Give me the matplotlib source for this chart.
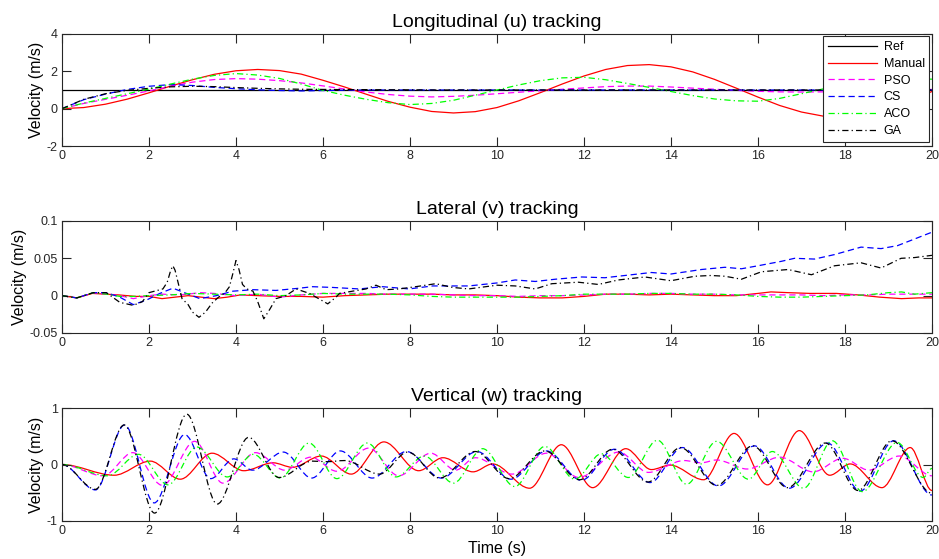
import numpy as np
import matplotlib.pyplot as plt
from matplotlib.path import Path
from matplotlib.patches import PathPatch

plt.rcParams['font.family'] = ['Liberation Sans', 'DejaVu Sans']
plt.rcParams['axes.unicode_minus'] = False

names = ['Ref', 'Manual', 'PSO', 'CS', 'ACO', 'GA']
colors = ['k', 'r', '#ff00ff', '#0000ff', '#00ff00', 'k']
styles = ['-', '-', (0, (5, 3)), (0, (5, 3)), (0, (5, 2.5, 1, 2.5)), (0, (5, 2.5, 1, 2.5))]

# ---- longitudinal velocity u (sampled every 0.5 s) ----
t_u = np.linspace(0, 20, 41)
ref_u_t = [0, 0, 20]
ref_u = [0, 1, 1]
manual_u = [0.00, 0.06, 0.24, 0.51, 0.85, 1.21, 1.55, 1.84, 2.03, 2.10, 2.04, 1.85, 1.52, 1.16,
            0.77, 0.39, 0.08, -0.15, -0.23, -0.16, 0.06, 0.42, 0.86, 1.32, 1.75, 2.10, 2.31, 2.36,
            2.24, 1.97, 1.57, 1.10, 0.62, 0.17, -0.18, -0.40, -0.45, -0.32, -0.02, 0.41, 0.92]
pso_u = [0.00, 0.28, 0.50, 0.72, 0.95, 1.20, 1.42, 1.56, 1.61, 1.58, 1.50, 1.38, 1.22, 1.05,
         0.89, 0.76, 0.67, 0.63, 0.66, 0.72, 0.80, 0.88, 0.96, 1.04, 1.11, 1.18, 1.21, 1.21,
         1.16, 1.10, 1.04, 0.98, 0.93, 0.90, 0.89, 0.90, 0.93, 0.96, 0.99, 1.01, 1.03]
cs_u = [0.00, 0.48, 0.78, 1.03, 1.20, 1.29, 1.24, 1.14, 1.07, 1.01, 0.97, 0.95, 0.97, 0.99,
        1.00, 1.00, 1.00, 1.00, 1.00, 1.00, 1.00, 1.00, 1.00, 1.00, 1.00, 1.00, 1.00, 1.00,
        1.00, 1.00, 1.00, 1.00, 1.00, 1.00, 1.00, 1.00, 1.00, 1.00, 1.00, 1.00, 1.00]
aco_u = [0.00, 0.30, 0.55, 0.80, 1.05, 1.32, 1.58, 1.78, 1.88, 1.80, 1.62, 1.32, 0.98, 0.72,
         0.50, 0.32, 0.22, 0.28, 0.45, 0.72, 1.00, 1.27, 1.50, 1.65, 1.68, 1.55, 1.35, 1.14,
         0.92, 0.70, 0.52, 0.42, 0.40, 0.55, 0.80, 1.06, 1.30, 1.45, 1.55, 1.60, 1.58]
ga_u = [0.00, 0.50, 0.80, 0.98, 1.09, 1.17, 1.20, 1.18, 1.13, 1.09, 1.06, 1.04, 1.03, 1.02,
        1.02, 1.01, 1.01, 1.00, 1.00, 1.00, 1.00, 1.00, 1.00, 1.00, 1.00, 1.00, 1.00, 1.00,
        1.00, 1.00, 1.00, 1.00, 1.00, 1.00, 1.00, 1.00, 1.00, 1.00, 1.00, 1.00, 1.00]

# ---- lateral velocity v, (time, value) ----
manual_v = [(0, 0), (0.34, -0.003), (0.7, 0.003), (1.0, 0.002), (1.3, 0.001), (1.7, -0.001),
            (2.0, -0.001), (2.3, -0.004), (2.6, -0.002), (2.9, 0.0), (3.2, -0.002), (3.5, -0.004),
            (3.8, -0.002), (4.1, 0.001), (4.5, 0.0), (5.0, -0.001), (5.5, -0.001), (6.0, -0.002),
            (6.5, 0.0), (7.0, 0.001), (7.5, 0.002), (8.0, 0.002), (8.5, 0.002), (9.0, 0.001),
            (9.5, 0.001), (10.0, 0.0), (10.5, -0.002), (11.0, -0.003), (11.5, -0.003), (12.0, -0.001),
            (12.5, 0.002), (13.0, 0.002), (13.5, 0.001), (14.0, 0.002), (14.5, 0.001), (15.0, 0.0),
            (15.5, 0.0), (16.0, 0.003), (16.3, 0.005), (16.7, 0.004), (17.2, 0.003), (17.8, 0.003),
            (18.3, 0.001), (18.8, -0.002), (19.3, -0.004), (19.7, -0.003), (20.0, -0.003)]
pso_v = [(0, 0), (0.34, -0.003), (0.72, 0.004), (1.02, 0.002), (1.33, 0.0), (1.64, -0.004),
         (2.0, 0.0), (2.3, 0.002), (2.7, 0.001), (3.2, 0.004), (3.5, 0.003), (4.0, 0.0),
         (4.5, 0.002), (5.0, -0.002), (5.5, 0.001), (6.0, 0.003), (6.5, 0.003), (7.0, 0.003),
         (7.5, 0.002), (8.0, 0.002), (8.5, 0.002), (9.0, 0.001), (9.5, 0.0), (10.0, 0.0),
         (10.5, -0.001), (11.0, 0.0), (11.5, 0.0), (12.0, 0.001), (12.5, 0.002), (13.0, 0.002),
         (13.5, 0.003), (14.0, 0.003), (14.5, 0.002), (15.0, 0.002), (15.5, 0.001), (16.0, 0.001),
         (16.5, 0.001), (17.0, 0.001), (17.5, 0.0), (18.0, 0.001), (18.5, 0.001), (19.0, 0.002),
         (19.5, 0.002), (20.0, 0.002)]
cs_v = [(0, 0), (0.34, -0.003), (0.72, 0.004), (1.02, 0.004), (1.33, -0.002), (1.64, -0.012),
        (1.94, -0.006), (2.25, 0.003), (2.55, 0.010), (2.86, 0.003), (3.17, -0.004), (3.55, 0.0),
        (3.93, 0.006), (4.39, 0.008), (4.92, 0.007), (5.46, 0.010), (5.76, 0.012), (6.22, 0.011),
        (6.83, 0.009), (7.37, 0.012), (7.98, 0.009), (8.52, 0.013), (8.98, 0.013), (9.35, 0.013),
        (10.0, 0.017), (10.42, 0.021), (10.88, 0.019), (11.34, 0.022), (11.95, 0.025), (12.48, 0.024),
        (12.94, 0.027), (13.55, 0.031), (14.0, 0.029), (14.7, 0.035), (15.24, 0.038), (15.62, 0.036),
        (16.0, 0.040), (16.54, 0.046), (16.84, 0.050), (17.3, 0.049), (17.76, 0.055), (18.37, 0.065),
        (18.83, 0.063), (19.21, 0.067), (20.0, 0.085)]
aco_v = [(0, 0), (0.34, -0.003), (0.72, 0.004), (1.02, 0.002), (1.33, -0.001), (1.64, -0.001),
         (2.0, 0.0), (2.5, 0.001), (3.0, 0.003), (3.5, 0.002), (4.0, 0.001), (4.5, 0.002),
         (5.0, 0.0), (5.5, 0.001), (6.0, 0.003), (6.5, 0.002), (7.0, 0.002), (7.5, 0.002),
         (8.0, 0.001), (8.5, -0.001), (9.0, -0.002), (9.5, -0.002), (10.0, -0.002), (10.5, -0.002),
         (11.0, -0.001), (11.5, 0.0), (12.0, 0.002), (12.5, 0.002), (13.0, 0.002), (13.5, 0.003),
         (14.0, 0.003), (14.5, 0.002), (15.0, 0.002), (15.5, 0.001), (16.0, -0.001), (16.5, -0.002),
         (17.0, -0.002), (17.5, -0.001), (18.0, 0.0), (18.5, 0.001), (19.0, 0.004), (19.3, 0.005),
         (19.6, 0.002), (20.0, 0.004)]
ga_v = [(0, 0), (0.34, -0.003), (0.72, 0.004), (1.02, 0.004), (1.33, -0.009), (1.64, -0.013),
        (1.85, -0.008), (2.0, 0.004), (2.32, 0.009), (2.42, 0.018), (2.5, 0.034), (2.55, 0.040),
        (2.6, 0.034), (2.68, 0.015), (2.76, -0.004), (2.9, -0.012), (3.0, -0.022), (3.15, -0.029),
        (3.3, -0.022), (3.45, -0.010), (3.6, -0.002), (3.75, 0.004), (3.85, 0.012), (3.93, 0.030),
        (4.0, 0.047), (4.07, 0.035), (4.15, 0.015), (4.25, 0.009), (4.39, 0.006), (4.5, -0.008),
        (4.64, -0.031), (4.78, -0.018), (4.92, -0.004), (5.15, 0.0), (5.38, 0.009), (5.69, 0.003),
        (5.9, -0.004), (6.11, -0.011), (6.3, -0.002), (6.38, 0.003), (6.68, 0.006), (6.99, 0.009),
        (7.22, 0.014), (7.45, 0.008), (7.75, 0.009), (8.13, 0.012), (8.59, 0.016), (8.98, 0.011),
        (9.35, 0.009), (10.0, 0.014), (10.42, 0.013), (10.88, 0.009), (11.26, 0.016), (11.87, 0.018),
        (12.33, 0.015), (12.79, 0.021), (13.4, 0.025), (14.0, 0.020), (14.55, 0.026), (14.92, 0.027),
        (15.24, 0.026), (15.62, 0.022), (16.08, 0.032), (16.69, 0.035), (17.23, 0.028), (17.76, 0.040),
        (18.37, 0.044), (18.83, 0.037), (19.29, 0.050), (19.6, 0.051), (20.0, 0.054)]

# ---- vertical velocity w: turning points (time, value) of each oscillation ----
manual_w = [(0, 0), (1.20, -0.19), (2.03, 0.06), (2.72, -0.26), (3.45, 0.20), (4.18, -0.11),
            (4.85, 0.03), (5.30, -0.05), (5.96, 0.15), (6.65, -0.17), (7.40, 0.40), (8.20, -0.11),
            (8.76, 0.12), (9.45, -0.13), (9.90, 0.01), (10.75, -0.42), (11.48, 0.35), (12.20, -0.41),
            (12.96, 0.28), (13.55, -0.09), (13.98, -0.01), (14.75, -0.27), (15.45, 0.55),
            (16.22, -0.36), (16.95, 0.60), (17.65, -0.19), (18.12, 0.01), (18.85, -0.41),
            (19.50, 0.30), (20.0, -0.46)]
pso_w = [(0, 0), (0.95, -0.20), (1.63, 0.21), (2.31, -0.37), (3.05, 0.41), (3.70, -0.33),
         (4.45, 0.21), (5.12, -0.10), (5.72, 0.13), (6.32, -0.12), (7.05, 0.29), (7.74, -0.20),
         (8.48, 0.20), (9.05, -0.10), (9.50, 0.12), (10.35, -0.17), (11.14, 0.20), (11.88, -0.23),
         (12.80, 0.22), (13.48, -0.14), (14.30, 0.07), (14.70, 0.03), (15.05, 0.08), (15.75, -0.08),
         (16.50, 0.13), (17.27, -0.13), (17.95, 0.11), (18.55, -0.10), (19.25, 0.15), (20.0, -0.20)]
cs_w = [(0, 0), (0.77, -0.45), (1.44, 0.70), (2.12, -0.68), (2.82, 0.53), (3.42, -0.25),
        (3.95, 0.10), (4.38, -0.10), (5.09, 0.22), (5.74, -0.24), (6.40, 0.24), (7.13, -0.24),
        (7.92, 0.23), (8.72, -0.24), (9.54, 0.23), (10.32, -0.26), (11.14, 0.24), (11.94, -0.28),
        (12.70, 0.27), (13.52, -0.32), (14.26, 0.30), (15.09, -0.38), (15.92, 0.33), (16.72, -0.42),
        (17.60, 0.38), (18.35, -0.47), (19.12, 0.42), (20.0, -0.54)]
aco_w = [(0, 0), (1.05, -0.20), (1.76, 0.18), (2.44, -0.36), (3.10, 0.31), (3.80, -0.22),
         (4.40, 0.18), (5.02, -0.24), (5.68, 0.38), (6.32, -0.25), (7.02, 0.38), (7.68, -0.22),
         (8.33, 0.15), (9.00, -0.33), (9.67, 0.28), (10.41, -0.39), (11.10, 0.32), (11.79, -0.26),
         (12.40, 0.19), (13.02, -0.23), (13.69, 0.43), (14.36, -0.35), (15.05, 0.41), (15.78, -0.26),
         (16.33, 0.23), (17.05, -0.42), (17.71, 0.42), (18.40, -0.48), (19.20, 0.39), (19.80, -0.23),
         (20.0, -0.07)]
ga_w = [(0, 0), (0.77, -0.44), (1.43, 0.70), (2.13, -0.86), (2.87, 0.89), (3.57, -0.70),
        (4.29, 0.48), (4.99, -0.23), (5.75, 0.06), (6.10, 0.05), (6.50, 0.07), (7.30, -0.17),
        (7.95, 0.22), (8.68, -0.24), (9.50, 0.23), (10.28, -0.25), (11.10, 0.24), (11.90, -0.27),
        (12.66, 0.27), (13.47, -0.31), (14.22, 0.30), (15.05, -0.37), (15.88, 0.33), (16.68, -0.41),
        (17.55, 0.38), (18.30, -0.46), (19.08, 0.42), (20.0, -0.51)]

axis_col = '#262626'
lw = 0.9


def smooth_line(ax, pts, color, ls):
    # cubic segments between turning points, flat tangent at each point
    verts = [pts[0]]
    codes = [Path.MOVETO]
    for (t0, y0), (t1, y1) in zip(pts[:-1], pts[1:]):
        dt = t1 - t0
        verts += [(t0 + dt / 3, y0), (t1 - dt / 3, y1), (t1, y1)]
        codes += [Path.CURVE4] * 3
    patch = PathPatch(Path(verts, codes), facecolor='none', edgecolor=color,
                      lw=lw, linestyle=ls, transform=ax.transData)
    ax.add_patch(patch)


fig = plt.figure(figsize=(9.39, 5.59), dpi=100)
ax_u = fig.add_axes([0.066, 0.7388, 0.9265, 0.2004])
ax_v = fig.add_axes([0.066, 0.4043, 0.9265, 0.2004])
ax_w = fig.add_axes([0.066, 0.0680, 0.9265, 0.2021])

# longitudinal
ax_u.plot(ref_u_t, ref_u, color=colors[0], ls=styles[0], lw=lw, label=names[0])
for i, y in enumerate([manual_u, pso_u, cs_u, aco_u, ga_u], start=1):
    ax_u.plot(t_u, y, color=colors[i], ls=styles[i], lw=lw, label=names[i])

# lateral
for i, s in enumerate([manual_v, pso_v, cs_v, aco_v, ga_v], start=1):
    t, y = zip(*s)
    ax_v.plot(t, y, color=colors[i], ls=styles[i], lw=lw)

# vertical
for i, s in enumerate([manual_w, pso_w, cs_w, aco_w, ga_w], start=1):
    smooth_line(ax_w, s, colors[i], styles[i])

ax_u.set_ylim(-2, 4)
ax_u.set_yticks([-2, 0, 2, 4])
ax_v.set_ylim(-0.05, 0.1)
ax_v.set_yticks([-0.05, 0, 0.05, 0.1])
ax_v.set_yticklabels(['-0.05', '0', '0.05', '0.1'])
ax_w.set_ylim(-1, 1)
ax_w.set_yticks([-1, 0, 1])

titles = ['Longitudinal (u) tracking', 'Lateral (v) tracking', 'Vertical (w) tracking']
for ax, title in zip([ax_u, ax_v, ax_w], titles):
    ax.set_xlim(0, 20)
    ax.set_xticks(range(0, 21, 2))
    ax.set_title(title, fontsize=14, pad=5, color='k')
    ax.set_ylabel('Velocity (m/s)', fontsize=11.5, labelpad=2, color='k')
    ax.tick_params(direction='in', length=6.5, width=0.8, top=True, right=True,
                   labelsize=9, colors=axis_col, pad=3)
    for sp in ax.spines.values():
        sp.set_color(axis_col)
        sp.set_linewidth(0.8)

ax_w.set_xlabel('Time (s)', fontsize=11.5, labelpad=3, color='k')

leg = ax_u.legend(loc='upper right', fontsize=9, handlelength=3.95, handletextpad=0.5,
                  labelspacing=0.38, borderaxespad=0.2, borderpad=0.38,
                  fancybox=False, framealpha=1, edgecolor=axis_col)
leg.get_frame().set_linewidth(0.8)

fig.savefig('out.png', dpi=100)
